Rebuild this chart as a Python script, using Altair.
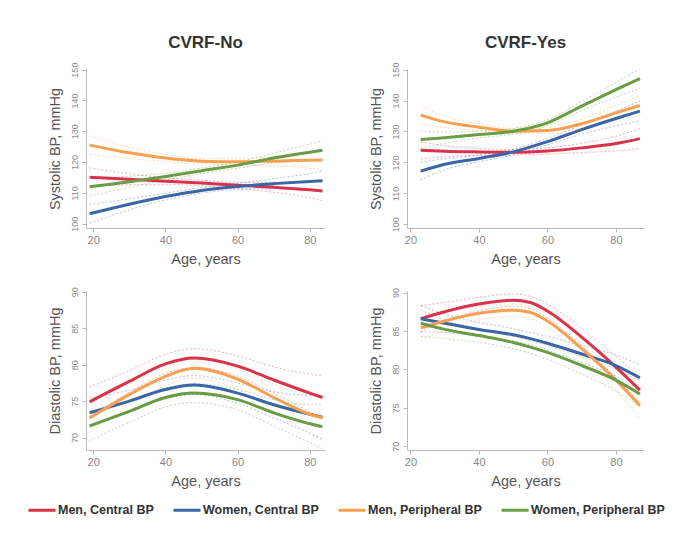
import altair as alt
import pandas as pd

FONT = "Liberation Sans"
SERIES = ["Men, Central BP", "Women, Central BP", "Men, Peripheral BP", "Women, Peripheral BP"]
COLORS = ["#d7334d", "#3b66a6", "#f7a04f", "#6a9c43"]

# ---- CVRF-No, systolic ----
AGE_NO_SYS = [19, 30, 40, 50, 60, 70, 80, 83.5]
NO_SYS = {
    "Men, Central BP": [115.1, 114.4, 113.8, 113.2, 112.5, 111.8, 111.0, 110.6],
    "Women, Central BP": [103.2, 106.3, 108.8, 110.8, 112.1, 113.0, 113.7, 113.9],
    "Men, Peripheral BP": [125.5, 123.0, 121.3, 120.3, 120.1, 120.3, 120.6, 120.7],
    "Women, Peripheral BP": [112.0, 113.6, 115.3, 117.2, 119.0, 121.3, 123.2, 123.8],
}
NO_SYS_CI = [3.0, 1.8, 1.1, 0.9, 1.0, 1.6, 2.6, 3.2]

# ---- CVRF-Yes, systolic ----
AGE_YES_SYS = [23, 30, 40, 50, 60, 70, 80, 87]
YES_SYS = {
    "Men, Central BP": [123.9, 123.6, 123.4, 123.3, 123.7, 124.7, 126.1, 127.7],
    "Women, Central BP": [117.2, 119.4, 121.3, 123.4, 126.7, 130.6, 134.2, 136.6],
    "Men, Peripheral BP": [135.3, 133.1, 131.4, 130.1, 130.3, 132.5, 136.0, 138.4],
    "Women, Peripheral BP": [127.4, 128.0, 129.0, 130.1, 132.8, 138.2, 143.5, 147.1],
}
YES_SYS_CI = [2.8, 1.8, 1.1, 0.9, 1.0, 1.5, 2.4, 3.2]

# ---- CVRF-No, diastolic ----
AGE_NO_DIA = [19, 30, 40, 48, 60, 70, 80, 83.5]
NO_DIA = {
    "Men, Central BP": [74.9, 77.7, 80.1, 80.9, 79.8, 77.9, 76.1, 75.5],
    "Women, Central BP": [73.4, 75.0, 76.6, 77.2, 76.1, 74.5, 73.2, 72.8],
    "Men, Peripheral BP": [72.7, 75.9, 78.4, 79.5, 78.0, 75.5, 73.2, 72.7],
    "Women, Peripheral BP": [71.6, 73.6, 75.5, 76.1, 75.2, 73.4, 71.9, 71.5],
}
NO_DIA_CI = [2.0, 1.5, 1.3, 1.3, 1.4, 1.8, 2.6, 3.0]

# ---- CVRF-Yes, diastolic ----
AGE_YES_DIA = [23, 30, 40, 50, 55, 60, 70, 80, 87]
YES_DIA = {
    "Men, Central BP": [86.6, 87.5, 88.5, 89.0, 88.7, 87.6, 84.2, 80.3, 77.3],
    "Women, Central BP": [86.6, 86.0, 85.2, 84.5, 84.0, 83.4, 82.0, 80.5, 78.9],
    "Men, Peripheral BP": [85.4, 86.3, 87.3, 87.7, 87.4, 86.3, 82.7, 78.6, 75.3],
    "Women, Peripheral BP": [86.0, 85.2, 84.4, 83.5, 82.9, 82.2, 80.5, 78.6, 76.8],
}
YES_DIA_CI = [1.7, 1.2, 0.9, 0.8, 0.8, 0.9, 1.1, 1.4, 1.7]

SYS_TICKS = [100, 110, 120, 130, 140, 150]
DIA_TICKS = [70, 75, 80, 85, 90]
AGE_TICKS = [20, 40, 60, 80]

LEGEND = alt.Legend(
    title=None, orient="none", legendX=-59, legendY=426,
    direction="horizontal", columns=4, padding=0,
    symbolType="stroke", symbolStrokeWidth=3, symbolSize=729, symbolDash=[1, 0],
    symbolOpacity=1,
    labelFontSize=12.5, labelFontWeight="bold", labelColor="#333", labelFont=FONT,
    columnPadding=13, labelOffset=1,
)
COLOR_SCALE = alt.Scale(domain=SERIES, range=COLORS)


def panel(ages, vals, hw, xdom, ydom, yticks, ytitle, w, h, title=None):
    rows, ci_rows = [], []
    for s in SERIES:
        for a, v, e in zip(ages, vals[s], hw):
            rows.append({"series": s, "age": a, "value": v})
            ci_rows.append({"series": s, "age": a, "value": v - e, "bound": "lo"})
            ci_rows.append({"series": s, "age": a, "value": v + e, "bound": "hi"})
    X = alt.X("age:Q", scale=alt.Scale(domain=xdom, nice=False, zero=False),
              axis=alt.Axis(values=AGE_TICKS, title="Age, years"))
    Y = alt.Y("value:Q", scale=alt.Scale(domain=ydom, nice=False, zero=False),
              axis=alt.Axis(values=yticks, title=ytitle, labelAngle=270, labelFontSize=9))
    C = alt.Color("series:N", scale=COLOR_SCALE, sort=SERIES, legend=LEGEND)
    ci = alt.Chart(pd.DataFrame(ci_rows)).mark_line(
        strokeWidth=1, strokeDash=[2, 2], opacity=0.4, interpolate="monotone", clip=True
    ).encode(x=X, y=Y, color=C, detail="bound:N")
    main = alt.Chart(pd.DataFrame(rows)).mark_line(
        strokeWidth=3, interpolate="monotone", clip=True
    ).encode(x=X, y=Y, color=C)
    props = dict(width=w, height=h)
    if title:
        props["title"] = alt.TitleParams(title, fontSize=17, fontWeight="bold",
                                         color="#333", font=FONT, offset=10)
    return alt.layer(ci, main).properties(**props)


tl = panel(AGE_NO_SYS, NO_SYS, NO_SYS_CI, [18, 84.2], [98.6, 150.2], SYS_TICKS,
           "Systolic BP, mmHg", 239, 159, "CVRF-No")
tr = panel(AGE_YES_SYS, YES_SYS, YES_SYS_CI, [19, 88.2], [98.8, 150.2], SYS_TICKS,
           "Systolic BP, mmHg", 237, 159, "CVRF-Yes")
bl = panel(AGE_NO_DIA, NO_DIA, NO_DIA_CI, [18, 84.2], [68.3, 90.1], DIA_TICKS,
           "Diastolic BP, mmHg", 239, 159)
br = panel(AGE_YES_DIA, YES_DIA, YES_DIA_CI, [19, 88.2], [69.5, 90.2], DIA_TICKS,
           "Diastolic BP, mmHg", 237, 159)

chart = alt.vconcat(
    alt.hconcat(tl, tr, spacing=43),
    alt.hconcat(bl, br, spacing=43),
    spacing=20,
).properties(
    padding={"left": 19, "top": 26, "right": 2, "bottom": 5},
    background="white",
).configure(font=FONT).configure_view(stroke=None).configure_axis(
    grid=False, domainColor="#bbbbbb", tickColor="#bbbbbb", tickSize=4,
    labelColor="#888888", labelFont=FONT, labelFontSize=11, labelPadding=2,
    titleColor="#555555", titleFont=FONT, titleFontSize=14.5, titleFontWeight="normal",
).configure_axisY(titlePadding=8, labelPadding=3).configure_axisX(titlePadding=7)

chart.save("out.html", embed_options={"renderer": "svg", "actions": False})
